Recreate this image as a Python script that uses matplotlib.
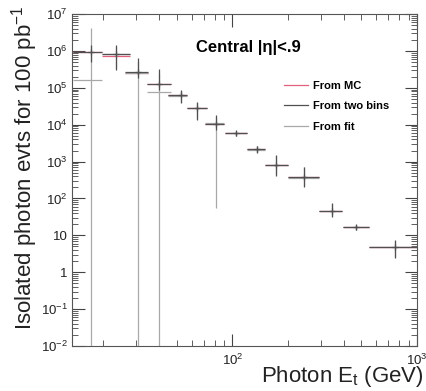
import numpy as np
import matplotlib
matplotlib.use("Agg")
import matplotlib.pyplot as plt
from matplotlib.ticker import LogLocator, FuncFormatter, NullFormatter

plt.rcParams['font.family'] = ['Liberation Sans', 'DejaVu Sans']
plt.rcParams['mathtext.fontset'] = 'custom'
plt.rcParams['mathtext.rm'] = 'Liberation Sans'
plt.rcParams['mathtext.it'] = 'Liberation Sans:italic'
plt.rcParams['mathtext.bf'] = 'Liberation Sans:bold'

# Bin centres and edges (GeV)
et_center = [17.2, 23.4, 30.8, 39.9, 52.3, 64.4, 80.9, 105, 135, 173, 244, 344, 468, 764]
et_low = [13.6, 19.7, 26.3, 34.5, 45, 56.4, 71.4, 91.6, 120, 150, 200, 296, 398, 548]
et_high = [19.7, 27.7, 35, 46.7, 57, 73, 89.7, 120, 150, 199, 296, 393, 548, 1000]

# "From two bins" (dark)
twobins_val = [9.5e5, 8.2e5, 2.7e5, 1.27e5, 6.4e4, 2.9e4, 1.05e4, 5.8e3, 2.15e3, 834, 371, 46.7, 16.6, 4.9]
twobins_up = [1.45e6, 1.44e6, 6.4e5, 3.2e5, 8.7e4, 4.2e4, 1.8e4, 6.6e3, 2.6e3, 1.5e3, 728, 75, 19.5, 7.5]
twobins_dn = [5.0e5, 3.0e5, 1.8e5, 9.0e4, 3.9e4, 1.34e4, 7.0e3, 5.1e3, 1.75e3, 420, 209, 32, 14.2, 2.4]

# "From fit" (light)
fit_val = [1.6e5, 8.2e5, 2.5e5, 7.8e4, 6.2e4, 2.8e4, 1.1e4, 5.8e3, 2.1e3, 830, 370, 47, 16.6, 4.9]
fit_up = [4.2e6, 1.3e6, 5.0e5, 2.5e5, 8.0e4, 4.0e4, 1.6e4, 6.5e3, 2.5e3, 1.4e3, 700, 70, 19, 7.2]
fit_dn = [1e-3, 3.5e5, 1e-3, 1e-3, 4.2e4, 1.5e4, 55, 5.2e3, 1.8e3, 450, 220, 33, 14.5, 2.6]

# "From MC" (red)
mc_val = [9.5e5, 7.4e5, 2.5e5, 1.25e5, 6.3e4, 2.9e4, 1.05e4, 5.8e3, 2.15e3, 834, 371, 46.7, 16.6, 4.9]

legend_labels = ["From MC", "From two bins", "From fit"]
title_text = "Central |\u03b7|<.9"

fig = plt.figure(figsize=(4.26, 3.91), dpi=100)
ax = fig.add_axes([0.169, 0.115, 0.810, 0.849])
ax.set_xscale('log')
ax.set_yscale('log')

xc = np.array(et_center)
xerr = [xc - np.array(et_low), np.array(et_high) - xc]

def yerr(val, up, dn):
    v = np.array(val)
    return [v - np.array(dn), np.array(up) - v]

ax.errorbar(xc, mc_val, xerr=xerr, fmt='none', ecolor='#e0607e', elinewidth=0.9, zorder=2)
ax.errorbar(xc, fit_val, xerr=xerr, yerr=yerr(fit_val, fit_up, fit_dn), fmt='none',
            ecolor='#a8a8a8', elinewidth=0.9, zorder=3)
ax.errorbar(xc, twobins_val, xerr=xerr, yerr=yerr(twobins_val, twobins_up, twobins_dn),
            fmt='+', color='#505050', ecolor='#505050', elinewidth=0.9, markersize=4,
            markeredgewidth=0.9, zorder=4)

# legend handles
h_mc, = ax.plot([], [], color='#e0607e', lw=0.9)
h_tb, = ax.plot([], [], color='#505050', lw=0.9)
h_fit, = ax.plot([], [], color='#a8a8a8', lw=0.9)
leg = ax.legend([h_mc, h_tb, h_fit], legend_labels, loc='upper left',
                bbox_to_anchor=(0.585, 0.83), frameon=False, handlelength=2.2,
                handletextpad=0.4, labelspacing=0.95,
                prop={'size': 8, 'weight': 'bold'})

ax.text(0.36, 0.90, title_text, transform=ax.transAxes, fontsize=12,
        fontweight='bold', ha='left', va='center')

ax.set_xlim(13.5, 1000)
ax.set_ylim(1e-2, 1e7)

def yfmt(v, pos):
    e = int(round(np.log10(v)))
    if e == 0:
        return '1'
    if e == 1:
        return '10'
    return r'$10^{%d}$' % e

def xfmt(v, pos):
    e = int(round(np.log10(v)))
    return r'$10^{%d}$' % e

ax.yaxis.set_major_locator(LogLocator(base=10, numticks=20))
ax.yaxis.set_minor_locator(LogLocator(base=10, subs=np.arange(2, 10), numticks=20))
ax.yaxis.set_major_formatter(FuncFormatter(yfmt))
ax.yaxis.set_minor_formatter(NullFormatter())
ax.xaxis.set_major_locator(LogLocator(base=10, numticks=10))
ax.xaxis.set_minor_locator(LogLocator(base=10, subs=np.arange(2, 10), numticks=10))
ax.xaxis.set_major_formatter(FuncFormatter(xfmt))
ax.xaxis.set_minor_formatter(NullFormatter())

ax.tick_params(which='both', direction='in', top=True, right=True, colors='#444444',
               labelcolor='#222222', labelsize=9.5)
ax.tick_params(which='major', length=9, width=0.8)
ax.tick_params(which='minor', length=4.5, width=0.6)
ax.tick_params(axis='x', pad=5)
ax.tick_params(axis='y', pad=3)
for s in ax.spines.values():
    s.set_color('#555555')
    s.set_linewidth(0.8)

fig.text(0.022, 0.985, "Isolated photon evts for 100 pb$^{-1}$", rotation=90,
         fontsize=16, ha='left', va='top', color='#222222')
fig.text(0.995, 0.004, "Photon E$_{\\mathrm{t}}$ (GeV)", fontsize=16, ha='right', va='bottom',
         color='#222222')

fig.savefig('out.png', dpi=100, facecolor='white')
